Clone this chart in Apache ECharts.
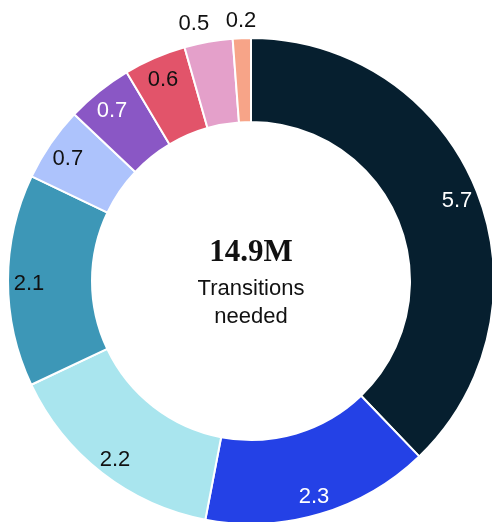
<!DOCTYPE html>
<html>
<head>
<meta charset="utf-8">
<script src="https://cdn.jsdelivr.net/npm/echarts@6/dist/echarts.min.js"></script>
<style>
html,body{margin:0;padding:0;background:#fff;}
#chart{width:492px;height:522px;}
</style>
</head>
<body>
<div id="chart"></div>
<script>
var categories = ['A','B','C','D','E','F','G','H','I'];
var values = [5.66, 2.27, 2.24, 2.11, 0.74, 0.66, 0.62, 0.48, 0.18];
var labels = ['5.7','2.3','2.2','2.1','0.7','0.7','0.6','0.5','0.2'];
var colors = ['#061f2f','#2441e6','#a9e5ee','#3d97b7','#adc3fc','#8a57c5','#e2546a','#e4a0ca','#f7a488'];
var labelColors = ['#ffffff','#ffffff','#111111','#111111','#111111','#ffffff','#111111','#111111','#111111'];
var outsideLabel = [false,false,false,false,false,false,false,true,true];
var totalText = '14.9M';
var subText = ['Transitions','needed'];

var cx = 251, cy = 281;

var mainData = values.map(function(v,i){
  return {name: categories[i], value: v, itemStyle:{color: colors[i]}};
});
function labelData(outer){
  return values.map(function(v,i){
    var show = outer ? outsideLabel[i] : !outsideLabel[i];
    var off = (outer && i === 7) ? [-11, 2] : [0, 3];
    return {name: categories[i], value: v,
      label:{show: show, formatter: labels[i], color: labelColors[i], offset: off}};
  });
}

var chart = echarts.init(document.getElementById('chart'), null, {renderer:'canvas'});
chart.setOption({
  animation:false,
  backgroundColor:'#ffffff',
  series:[
    {type:'pie', center:[cx,cy], radius:[159,243], startAngle:90, clockwise:true,
     avoidLabelOverlap:false, silent:true,
     itemStyle:{borderColor:'#ffffff', borderWidth:2},
     label:{show:false}, labelLine:{show:false}, data: mainData},
    {type:'pie', center:[cx,cy], radius:[195,243], startAngle:90, clockwise:true,
     avoidLabelOverlap:false, silent:true,
     itemStyle:{color:'rgba(0,0,0,0)', borderWidth:0},
     label:{position:'inside', fontSize:22, fontFamily:'Liberation Sans'},
     labelLine:{show:false}, data: labelData(false)},
    {type:'pie', center:[cx,cy], radius:[250,270], startAngle:90, clockwise:true,
     avoidLabelOverlap:false, silent:true,
     itemStyle:{color:'rgba(0,0,0,0)', borderWidth:0},
     label:{position:'inside', fontSize:22, fontFamily:'Liberation Sans'},
     labelLine:{show:false}, data: labelData(true)}
  ],
  graphic:[
    {type:'text', x:cx, y:253, style:{text: totalText, font:'bold 31px "Liberation Serif"', fill:'#111111', textAlign:'center', textVerticalAlign:'middle'}},
    {type:'text', x:cx, y:289, style:{text: subText[0], font:'22px "Liberation Sans"', fill:'#111111', textAlign:'center', textVerticalAlign:'middle'}},
    {type:'text', x:cx, y:317, style:{text: subText[1], font:'22px "Liberation Sans"', fill:'#111111', textAlign:'center', textVerticalAlign:'middle'}}
  ]
});
</script>
</body>
</html>
